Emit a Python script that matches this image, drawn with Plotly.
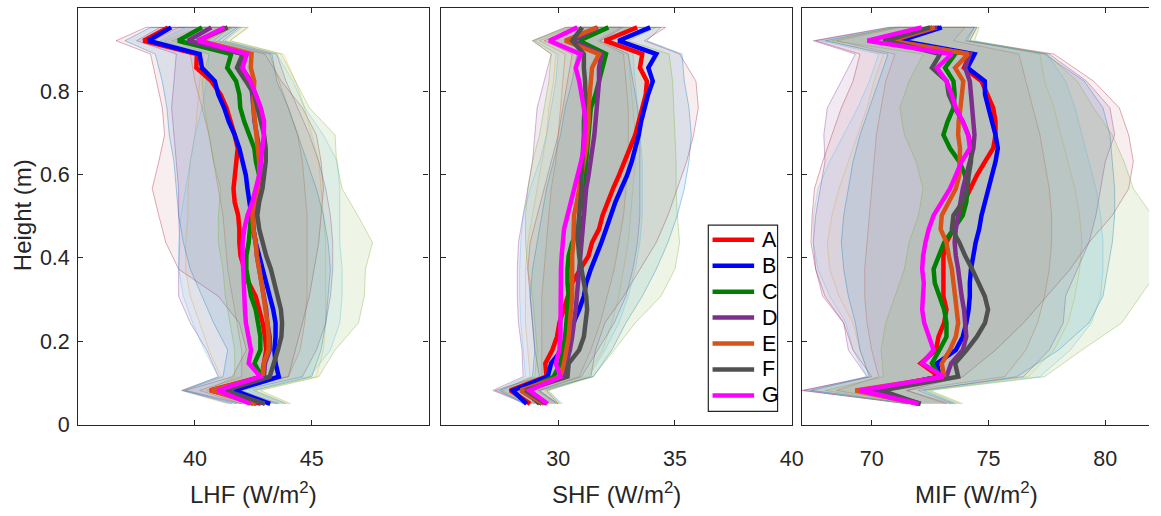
import plotly.graph_objects as go

# ---------------- data ----------------
H = [0.050, 0.082, 0.115, 0.147, 0.179, 0.211, 0.244, 0.276, 0.308, 0.340,
     0.373, 0.405, 0.437, 0.469, 0.502, 0.534, 0.566, 0.598, 0.631, 0.663,
     0.695, 0.727, 0.760, 0.792, 0.824, 0.856, 0.889, 0.921, 0.953]
H_BAND = [0.050, 0.082, 0.115, 0.179, 0.244, 0.308, 0.373, 0.437, 0.502,
          0.566, 0.631, 0.695, 0.760, 0.824, 0.889, 0.921, 0.953]

SERIES = ["A", "B", "C", "D", "E", "F", "G"]
LINE_COLORS = ["#FF0000", "#0000FF", "#008000", "#7E2F8E", "#D95319", "#505050", "#FF00FF"]
BAND_COLORS = [(0, 114, 189), (217, 83, 25), (237, 177, 32), (126, 47, 142),
               (119, 172, 48), (77, 190, 238), (162, 20, 47)]
BAND_ALPHA = [0.10, 0.05, 0.05, 0.10, 0.12, 0.10, 0.08]
BAND_DRAW_ORDER = [6, 1, 2, 3, 0, 5, 4]

# LHF means
LHF_A = [42.82, 40.65, 42.85, 42.95, 43.05, 43.0, 42.9, 42.75, 42.6, 42.3, 42.1, 41.95, 41.9, 41.9, 41.85, 41.7, 41.65, 41.72, 41.8, 41.83, 41.7, 41.55, 41.35, 41.1, 40.7, 40.06, 40.08, 37.8, 38.85]
LHF_B = [43.22, 41.68, 43.59, 43.45, 43.4, 43.45, 43.45, 43.35, 43.2, 43.05, 42.9, 42.75, 42.6, 42.5, 42.4, 42.32, 42.25, 42.18, 42.05, 41.9, 41.7, 41.45, 41.25, 41.0, 40.85, 40.3, 40.2, 38.0, 38.98]
LHF_C = [42.5, 40.9, 42.85, 42.55, 42.8, 42.8, 42.7, 42.6, 42.4, 42.3, 42.2, 42.2, 42.3, 42.35, 42.4, 42.55, 42.7, 42.75, 42.61, 42.54, 42.32, 42.11, 41.94, 41.9, 41.76, 41.38, 41.55, 39.28, 40.3]
LHF_D = [42.65, 40.8, 42.95, 43.0, 43.2, 43.2, 43.1, 43.05, 42.95, 42.85, 42.75, 42.65, 42.6, 42.5, 42.5, 42.6, 42.7, 42.8, 42.8, 42.75, 42.65, 42.55, 42.5, 42.45, 42.4, 42.0, 42.1, 39.7, 40.7]
LHF_E = [42.6, 40.69, 42.9, 42.95, 43.15, 43.15, 43.1, 43.03, 42.95, 42.85, 42.75, 42.65, 42.6, 42.5, 42.46, 42.54, 42.68, 42.75, 42.75, 42.68, 42.61, 42.54, 42.51, 42.51, 42.54, 42.39, 42.42, 40.2, 41.3]
LHF_F = [43.0, 41.3, 43.2, 43.4, 43.55, 43.7, 43.73, 43.68, 43.55, 43.4, 43.25, 43.05, 42.88, 42.75, 42.67, 42.75, 42.89, 42.96, 43.03, 43.03, 42.96, 42.82, 42.68, 42.54, 42.18, 41.8, 42.04, 40.1, 41.4]
LHF_G = [42.37, 40.97, 42.8, 42.3, 42.4, 42.3, 42.18, 42.14, 42.11, 42.11, 42.08, 42.04, 42.04, 42.11, 42.25, 42.46, 42.6, 42.75, 42.82, 42.89, 42.95, 42.96, 42.82, 42.61, 42.37, 42.03, 42.22, 40.13, 41.26]

# SHF means
SHF_A = [28.8, 27.95, 29.5, 29.45, 29.75, 29.95, 30.05, 30.25, 30.4, 30.6, 30.95, 31.3, 31.45, 31.75, 31.9, 32.1, 32.35, 32.6, 32.85, 33.1, 33.3, 33.45, 33.6, 33.75, 33.8, 33.5, 33.6, 32.0, 33.38]
SHF_B = [28.65, 28.06, 29.55, 29.7, 30.15, 30.4, 30.7, 30.9, 31.1, 31.2, 31.4, 31.65, 31.85, 32.05, 32.23, 32.45, 32.7, 32.95, 33.15, 33.3, 33.45, 33.55, 33.7, 33.85, 34.05, 33.86, 34.2, 32.58, 33.94]
SHF_C = [29.2, 28.56, 29.8, 30.1, 30.2, 30.3, 30.35, 30.4, 30.45, 30.4, 30.4, 30.45, 30.6, 30.9, 31.1, 31.1, 31.15, 31.2, 31.2, 31.25, 31.3, 31.35, 31.4, 31.6, 31.75, 31.85, 32.05, 30.9, 32.15]
SHF_D = [29.3, 28.4, 30.2, 30.35, 30.5, 30.6, 30.7, 30.75, 30.8, 30.85, 30.9, 30.95, 31.0, 31.05, 31.1, 31.15, 31.2, 31.3, 31.4, 31.5, 31.55, 31.6, 31.65, 31.7, 31.75, 31.75, 31.85, 30.6, 31.7]
SHF_E = [29.4, 28.4, 30.1, 30.25, 30.35, 30.45, 30.5, 30.55, 30.6, 30.6, 30.6, 30.6, 30.65, 30.65, 30.68, 30.8, 30.9, 31.0, 31.1, 31.2, 31.25, 31.3, 31.3, 31.35, 31.38, 31.45, 31.75, 30.3, 31.66]
SHF_F = [29.5, 28.6, 30.4, 30.45, 30.9, 31.1, 31.17, 31.24, 31.2, 31.1, 31.0, 30.9, 30.85, 30.85, 30.9, 30.95, 31.0, 31.0, 31.05, 31.05, 31.1, 31.1, 31.15, 31.17, 31.15, 31.1, 31.1, 30.6, 31.03]
SHF_G = [29.55, 28.77, 30.1, 29.9, 30.05, 30.1, 30.1, 30.1, 30.1, 30.1, 30.12, 30.15, 30.2, 30.25, 30.4, 30.55, 30.7, 30.85, 30.98, 31.1, 31.15, 31.17, 31.1, 31.0, 30.9, 30.75, 30.96, 29.62, 30.82]

# MIF means
MIF_A = [72.0, 69.8, 72.9, 72.1, 72.75, 72.86, 73.1, 73.2, 73.07, 73.07, 73.07, 73.07, 73.2, 73.5, 73.8, 73.95, 74.2, 74.5, 74.85, 75.2, 75.3, 75.3, 75.2, 74.95, 74.7, 73.95, 74.2, 70.9, 72.9]
MIF_B = [72.05, 70.0, 72.9, 72.8, 73.6, 73.9, 74.05, 74.15, 74.2, 74.2, 74.25, 74.35, 74.45, 74.6, 74.7, 74.85, 75.0, 75.15, 75.3, 75.4, 75.3, 75.15, 75.0, 74.85, 74.84, 74.1, 74.4, 71.24, 73.0]
MIF_C = [72.05, 69.9, 72.9, 72.58, 72.9, 73.2, 73.2, 73.1, 72.9, 72.7, 72.65, 72.85, 73.1, 73.5, 73.9, 74.05, 74.1, 74.0, 73.75, 73.35, 73.07, 73.25, 73.5, 73.55, 73.5, 73.14, 73.57, 70.5, 72.6]
MIF_D = [72.1, 69.9, 73.2, 73.4, 73.9, 74.05, 74.0, 73.95, 73.85, 73.8, 73.7, 73.6, 73.55, 73.6, 73.7, 73.8, 73.9, 74.05, 74.2, 74.35, 74.4, 74.35, 74.3, 74.25, 74.2, 74.0, 74.2, 70.8, 72.8]
MIF_E = [72.05, 69.3, 73.1, 73.0, 73.35, 73.6, 73.7, 73.65, 73.57, 73.5, 73.43, 73.3, 73.2, 72.95, 73.0, 73.3, 73.6, 73.75, 73.78, 73.78, 73.7, 73.72, 73.8, 73.85, 73.92, 73.57, 74.13, 70.8, 72.7]
MIF_F = [72.08, 70.4, 73.7, 73.57, 74.06, 74.5, 74.85, 74.98, 74.84, 74.6, 74.3, 74.0, 73.75, 73.43, 73.5, 73.9, 74.1, 74.15, 74.25, 74.27, 74.13, 73.9, 73.55, 73.3, 73.21, 72.58, 72.93, 70.6, 72.5]
MIF_G = [72.0, 69.5, 73.07, 72.16, 72.65, 72.44, 72.25, 72.16, 72.2, 72.23, 72.16, 72.2, 72.3, 72.44, 72.65, 73.0, 73.35, 73.6, 73.85, 74.2, 74.13, 73.9, 73.6, 73.43, 73.2, 72.79, 73.43, 69.82, 72.14]

# LHF spread bands (lower / upper) on H_BAND
LHF_LO1 = [41.8, 39.5, 41.2, 41.4, 40.8, 40.3, 39.8, 39.5, 39.3, 39.2, 39.1, 38.9, 38.8, 38.6, 38.3, 37.0, 38.1]
LHF_HI1 = [43.9, 42.5, 45.0, 45.4, 45.6, 45.7, 45.8, 45.7, 45.5, 45.2, 44.8, 44.4, 44.0, 43.5, 43.3, 41.0, 41.8]
LHF_LO2 = [42.0, 40.2, 42.0, 42.0, 41.8, 41.6, 41.4, 41.3, 41.2, 41.0, 40.8, 40.6, 40.3, 40.0, 39.8, 38.2, 39.3]
LHF_HI2 = [43.5, 41.8, 44.0, 44.5, 44.7, 44.8, 44.8, 44.8, 44.8, 44.7, 44.6, 44.4, 44.0, 43.6, 43.2, 40.8, 41.5]
LHF_LO3 = [41.4, 39.4, 41.1, 40.6, 40.2, 39.8, 39.6, 39.6, 39.7, 39.7, 39.8, 40.0, 40.1, 40.2, 40.4, 38.7, 40.2]
LHF_HI3 = [44.0, 42.6, 45.2, 45.5, 45.6, 45.6, 45.6, 45.6, 45.5, 45.4, 45.3, 45.0, 44.7, 44.3, 43.8, 41.5, 42.3]
LHF_LO4 = [41.6, 39.45, 41.0, 40.5, 39.8, 39.3, 39.3, 39.35, 39.3, 39.3, 39.2, 39.1, 39.0, 39.1, 39.2, 37.5, 38.5]
LHF_HI4 = [43.6, 42.0, 44.6, 45.2, 45.6, 45.8, 45.9, 45.9, 45.8, 45.6, 45.3, 44.9, 44.4, 43.9, 43.5, 41.2, 41.9]
LHF_LO5 = [42.1, 40.5, 41.7, 41.7, 41.5, 41.3, 41.2, 41.0, 41.0, 41.1, 40.8, 40.6, 40.4, 40.3, 40.6, 39.0, 40.6]
LHF_HI5 = [44.1, 42.8, 45.3, 46.0, 47.0, 47.25, 47.3, 47.6, 46.97, 46.3, 46.06, 46.0, 44.9, 44.3, 43.7, 41.5, 42.25]
LHF_LO6 = [41.5, 39.5, 41.0, 40.4, 39.9, 39.5, 39.3, 39.3, 39.4, 39.6, 39.8, 40.0, 40.3, 40.5, 40.6, 38.5, 39.6]
LHF_HI6 = [43.8, 42.3, 44.9, 45.8, 46.2, 46.3, 46.3, 46.2, 46.2, 46.2, 46.1, 45.5, 44.7, 44.2, 43.5, 41.3, 42.0]
LHF_LO7 = [42.0, 39.6, 41.6, 42.2, 41.9, 41.0, 39.3, 38.75, 38.45, 38.17, 38.45, 38.7, 38.6, 38.35, 38.1, 36.62, 37.9]
LHF_HI7 = [43.2, 41.0, 44.0, 44.3, 44.6, 44.9, 45.1, 45.3, 45.4, 45.5, 45.4, 45.2, 44.6, 43.7, 43.0, 40.5, 41.6]

# SHF spread bands
SHF_LO1 = [28.5, 27.5, 28.9, 29.0, 28.9, 28.8, 28.9, 29.1, 29.3, 29.5, 29.8, 30.1, 30.3, 30.6, 30.8, 29.6, 30.9]
SHF_HI1 = [29.9, 29.2, 31.5, 32.3, 32.9, 33.6, 34.2, 34.7, 35.1, 35.4, 35.6, 35.7, 35.6, 35.4, 35.3, 33.8, 34.4]
SHF_LO2 = [29.0, 28.0, 29.3, 29.3, 29.3, 29.3, 29.4, 29.5, 29.6, 29.7, 29.9, 30.0, 30.1, 30.2, 30.3, 29.2, 30.5]
SHF_HI2 = [30.0, 29.1, 30.9, 31.4, 31.8, 32.1, 32.4, 32.6, 32.8, 32.9, 33.0, 33.0, 33.0, 32.9, 32.8, 31.7, 32.7]
SHF_LO3 = [28.7, 27.5, 28.8, 28.7, 28.6, 28.6, 28.6, 28.7, 28.9, 29.1, 29.3, 29.5, 29.6, 29.8, 29.9, 29.0, 30.4]
SHF_HI3 = [30.1, 29.4, 31.2, 31.9, 32.3, 32.6, 32.8, 33.0, 33.1, 33.2, 33.3, 33.3, 33.2, 33.1, 33.0, 31.8, 33.0]
SHF_LO4 = [28.6, 27.2, 28.5, 28.45, 28.3, 28.25, 28.25, 28.3, 28.5, 28.7, 28.9, 29.0, 29.1, 29.4, 29.7, 28.9, 30.3]
SHF_HI4 = [30.0, 29.2, 31.0, 31.7, 32.4, 32.9, 33.2, 33.4, 33.5, 33.5, 33.5, 33.5, 33.4, 33.2, 33.0, 31.8, 32.8]
SHF_LO5 = [28.7, 27.6, 29.0, 29.1, 29.0, 28.9, 28.7, 28.6, 28.6, 28.7, 28.9, 29.2, 29.4, 29.6, 29.7, 28.9, 30.3]
SHF_HI5 = [30.1, 29.6, 31.5, 32.4, 33.3, 34.4, 35.0, 35.2, 35.1, 35.05, 35.05, 35.0, 34.95, 34.9, 34.75, 33.0, 34.2]
SHF_LO6 = [28.6, 27.4, 28.6, 28.5, 28.4, 28.35, 28.35, 28.4, 28.5, 28.8, 29.2, 29.5, 29.7, 29.9, 30.0, 29.0, 30.4]
SHF_HI6 = [30.2, 29.5, 31.3, 32.0, 32.6, 33.0, 33.3, 33.5, 33.6, 33.6, 33.6, 33.5, 33.4, 33.3, 33.2, 32.0, 33.0]
SHF_LO7 = [28.7, 27.3, 29.2, 29.0, 28.9, 28.8, 28.7, 28.8, 29.1, 29.4, 29.7, 30.0, 30.2, 30.4, 30.6, 29.4, 30.8]
SHF_HI7 = [30.0, 29.5, 31.4, 31.6, 32.0, 32.8, 33.5, 34.2, 34.7, 35.1, 35.5, 35.8, 36.0, 35.9, 35.2, 33.7, 34.6]

# MIF spread bands
MIF_LO1 = [71.7, 67.4, 69.9, 69.5, 69.3, 69.0, 68.8, 68.7, 68.8, 69.0, 69.2, 69.5, 69.9, 70.3, 70.7, 68.0, 71.0]
MIF_HI1 = [73.6, 72.2, 76.2, 78.0, 79.3, 79.9, 80.1, 80.3, 80.4, 80.4, 80.3, 80.2, 79.9, 79.1, 77.4, 74.1, 74.4]
MIF_LO2 = [71.8, 68.5, 70.3, 70.0, 69.8, 69.7, 69.7, 69.8, 69.9, 70.0, 70.1, 70.2, 70.4, 70.6, 71.0, 68.5, 71.2]
MIF_HI2 = [73.4, 71.5, 75.7, 76.6, 77.1, 77.4, 77.6, 77.7, 77.7, 77.6, 77.4, 77.2, 76.9, 76.6, 76.3, 73.5, 74.0]
MIF_LO3 = [71.6, 67.4, 69.9, 69.5, 69.2, 68.6, 68.2, 68.1, 68.3, 68.6, 69.0, 69.4, 69.8, 70.1, 70.5, 68.1, 71.0]
MIF_HI3 = [73.8, 72.4, 76.7, 77.8, 78.4, 78.7, 78.9, 79.0, 78.9, 78.7, 78.4, 78.1, 77.8, 77.4, 77.2, 74.2, 74.5]
MIF_LO4 = [71.5, 67.1, 69.8, 69.0, 68.8, 67.9, 67.6, 67.5, 67.6, 67.8, 68.0, 67.95, 68.1, 68.7, 69.3, 67.5, 70.7]
MIF_HI4 = [73.5, 72.0, 76.5, 77.6, 78.2, 78.3, 78.8, 79.3, 79.6, 79.8, 80.0, 80.4, 80.2, 79.2, 77.6, 74.0, 74.4]
MIF_LO5 = [71.5, 68.0, 70.5, 70.4, 70.6, 71.0, 71.4, 71.6, 72.0, 72.2, 71.9, 71.4, 71.2, 71.6, 72.2, 68.3, 71.0]
MIF_HI5 = [73.9, 72.5, 77.4, 79.0, 80.7, 81.5, 82.3, 82.5, 82.0, 81.2, 80.8, 80.3, 79.5, 78.8, 77.5, 74.4, 74.6]
MIF_LO6 = [71.6, 67.3, 69.8, 69.2, 68.9, 68.2, 67.7, 67.5, 67.5, 67.7, 68.2, 68.8, 69.4, 69.9, 70.3, 67.8, 70.9]
MIF_HI6 = [73.7, 72.3, 77.2, 78.5, 79.4, 79.8, 79.9, 79.9, 79.8, 79.6, 79.3, 79.0, 78.7, 78.3, 77.5, 74.2, 74.5]
MIF_LO7 = [71.6, 67.0, 70.0, 69.2, 68.8, 68.0, 67.6, 67.4, 67.45, 67.55, 67.9, 68.3, 68.7, 69.2, 69.5, 67.6, 70.8]
MIF_HI7 = [73.2, 71.5, 73.9, 75.3, 76.5, 77.5, 78.5, 79.3, 80.3, 81.0, 81.2, 81.0, 80.6, 79.5, 77.8, 74.2, 74.5]

X_TITLES = ["LHF (W/m<sup>2</sup>)", "SHF (W/m<sup>2</sup>)", "MIF (W/m<sup>2</sup>)"]
Y_TITLE = "Height (m)"
X_RANGES = [[35, 50], [25, 40], [67, 81.87]]
X_TICKS = [[40, 45], [30, 35, 40], [70, 75, 80]]
Y_TICKS = [0, 0.2, 0.4, 0.6, 0.8, 1]
Y_TICKTEXT = ["0", "0.2", "0.4", "0.6", "0.8", "1"]

PANEL_MEANS = [
    [LHF_A, LHF_B, LHF_C, LHF_D, LHF_E, LHF_F, LHF_G],
    [SHF_A, SHF_B, SHF_C, SHF_D, SHF_E, SHF_F, SHF_G],
    [MIF_A, MIF_B, MIF_C, MIF_D, MIF_E, MIF_F, MIF_G],
]
PANEL_BANDS = [
    [(LHF_LO1, LHF_HI1), (LHF_LO2, LHF_HI2), (LHF_LO3, LHF_HI3), (LHF_LO4, LHF_HI4),
     (LHF_LO5, LHF_HI5), (LHF_LO6, LHF_HI6), (LHF_LO7, LHF_HI7)],
    [(SHF_LO1, SHF_HI1), (SHF_LO2, SHF_HI2), (SHF_LO3, SHF_HI3), (SHF_LO4, SHF_HI4),
     (SHF_LO5, SHF_HI5), (SHF_LO6, SHF_HI6), (SHF_LO7, SHF_HI7)],
    [(MIF_LO1, MIF_HI1), (MIF_LO2, MIF_HI2), (MIF_LO3, MIF_HI3), (MIF_LO4, MIF_HI4),
     (MIF_LO5, MIF_HI5), (MIF_LO6, MIF_HI6), (MIF_LO7, MIF_HI7)],
]

# ---------------- figure ----------------
W, HT = 1161, 516
FONT = "Liberation Sans, Arial, sans-serif"
TXT = "#262626"
TICK_SIZE = 21.5
LABEL_SIZE = 24

fig = go.Figure()
axes = [("x", "y"), ("x2", "y2"), ("x3", "y3")]

for p, (xa, ya) in enumerate(axes):
    for k in BAND_DRAW_ORDER:
        lo, hi = PANEL_BANDS[p][k]
        r, g, b = BAND_COLORS[k]
        fig.add_trace(go.Scatter(
            x=list(lo) + list(hi)[::-1], y=H_BAND + H_BAND[::-1],
            xaxis=xa, yaxis=ya, mode="lines", fill="toself",
            fillcolor=f"rgba({r},{g},{b},{BAND_ALPHA[k]})",
            line=dict(color=f"rgba({r},{g},{b},0.5)", width=0.7),
            showlegend=False, hoverinfo="skip"))
    for s, vals in enumerate(PANEL_MEANS[p]):
        fig.add_trace(go.Scatter(
            x=vals, y=H, xaxis=xa, yaxis=ya, mode="lines",
            line=dict(color=LINE_COLORS[s], width=4.5),
            name=SERIES[s], showlegend=False))

xdoms = [[79 / W, 433 / W], [446 / W, 800 / W], [810 / W, 1.0]]
ydom = [1 - 435.6 / HT, 1 - 8 / HT]

common = dict(showgrid=False, zeroline=False, showline=True, linecolor=TXT,
              linewidth=1.2, ticks="inside", ticklen=5, tickwidth=1.2,
              tickcolor=TXT, tickfont=dict(family=FONT, size=TICK_SIZE, color=TXT))

layout = dict(
    width=W, height=HT, margin=dict(l=0, r=0, t=0, b=0),
    paper_bgcolor="white", plot_bgcolor="white",
    font=dict(family=FONT, size=TICK_SIZE, color=TXT),
    showlegend=False,
)
for p in range(3):
    sfx = "" if p == 0 else str(p + 1)
    layout["xaxis" + sfx] = dict(common, domain=xdoms[p], range=X_RANGES[p],
                                 tickvals=X_TICKS[p], anchor="y" + sfx,
                                 mirror="allticks", ticklabelstandoff=14)
    layout["yaxis" + sfx] = dict(common, domain=ydom, range=[0, 1],
                                 tickvals=Y_TICKS, ticktext=Y_TICKTEXT,
                                 anchor="x" + sfx, showticklabels=(p == 0),
                                 ticklabelstandoff=3,
                                 mirror=("allticks" if p < 2 else False))
fig.update_layout(**layout)

# axis titles
centers = [(79 + 433) / 2 / W, (446 + 800) / 2 / W, (810 + 1164) / 2 / W]
for p in range(3):
    fig.add_annotation(text=X_TITLES[p], xref="paper", yref="paper",
                       x=centers[p], y=1 - 506 / HT, xanchor="center", yanchor="middle",
                       showarrow=False, font=dict(family=FONT, size=LABEL_SIZE, color=TXT))
fig.add_annotation(text=Y_TITLE, xref="paper", yref="paper",
                   x=23 / W, y=1 - 221 / HT, textangle=-90, xanchor="center",
                   yanchor="middle", showarrow=False,
                   font=dict(family=FONT, size=LABEL_SIZE, color=TXT))

# legend box (drawn in the SHF panel corner, as in the original)
LEG_X0, LEG_X1, LEG_Y0, LEG_Y1 = 715.7, 785.7, 231, 422
LEG_ROW0, LEG_DY = 246, 26.6
fig.add_shape(type="rect", xref="paper", yref="paper",
              x0=LEG_X0 / W, x1=LEG_X1 / W, y0=1 - LEG_Y1 / HT, y1=1 - LEG_Y0 / HT,
              fillcolor="white", line=dict(color=TXT, width=1.2), layer="above")
for s, name in enumerate(SERIES):
    yy = 1 - (LEG_ROW0 + s * LEG_DY) / HT
    fig.add_shape(type="line", xref="paper", yref="paper",
                  x0=720 / W, x1=762 / W, y0=yy, y1=yy,
                  line=dict(color=LINE_COLORS[s], width=4.5), layer="above")
    fig.add_annotation(text=name, xref="paper", yref="paper", x=767.5 / W, y=yy,
                       xanchor="left", yanchor="middle", showarrow=False,
                       font=dict(family=FONT, size=TICK_SIZE, color="#000000"))

fig.write_html("out.html")
